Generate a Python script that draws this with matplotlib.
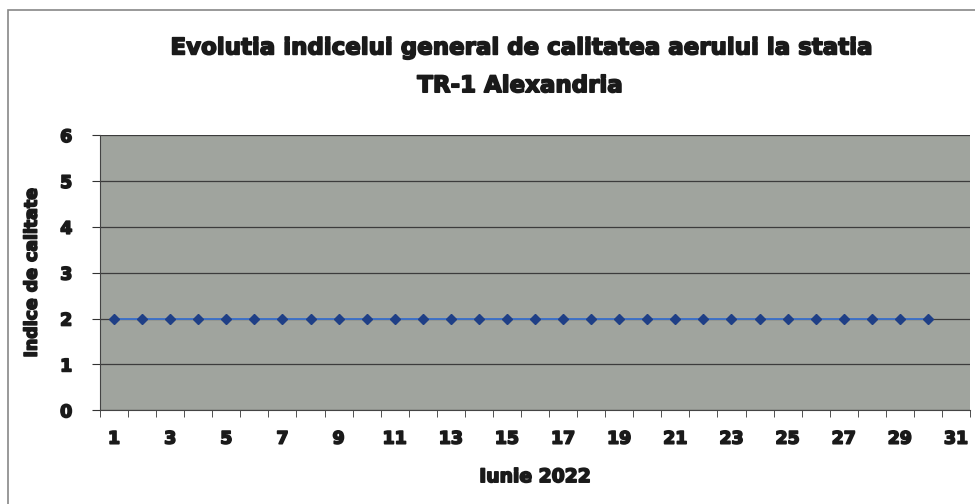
import numpy as np
import matplotlib.pyplot as plt
import matplotlib.patheffects as pe
from matplotlib.patches import Rectangle

# daily general air quality index, June 2022, station TR-1 Alexandria
days = list(range(1, 31))
index_values = [2] * 30
tick_days = list(range(1, 32, 2))

plt.rcParams['font.family'] = ['DejaVu Sans']
heavy = [pe.withStroke(linewidth=1.2, foreground='#1a1a1a')]

fig = plt.figure(figsize=(9.75, 5.04), dpi=100)
ax = fig.add_axes([0.1026, 0.186, 0.8923, 0.546])

ax.set_facecolor('#a0a49e')
ax.plot(days, index_values, color='#3f72c8', lw=1.4, marker='D',
        markersize=5, markerfacecolor='#1f3f86', markeredgecolor='#1f3f86')

ax.set_xlim(0.5, 31.5)
ax.set_ylim(0, 6)
ax.set_yticks(range(0, 7))
ax.set_xticks(tick_days)
ax.set_xticks(np.arange(0.5, 32, 1), minor=True)
ax.tick_params(axis='x', which='major', length=0, pad=14)
ax.tick_params(axis='x', which='minor', length=5, direction='out', color='#333333')
ax.tick_params(axis='y', length=6, direction='out', color='#333333', pad=14)
for lbl in ax.get_xticklabels() + ax.get_yticklabels():
    lbl.set_fontweight('bold')
    lbl.set_fontsize(12.5)
    lbl.set_color('#1a1a1a')
    lbl.set_path_effects(heavy)

ax.grid(axis='y', color='#3c3c3c', lw=0.9)
ax.set_axisbelow(True)
for side in ('top', 'right'):
    ax.spines[side].set_visible(False)
ax.spines['left'].set_color('#444444')
ax.spines['bottom'].set_color('#444444')

ax.set_xlabel('Iunie 2022', fontsize=13.5, fontweight='bold', color='#1a1a1a',
              labelpad=14, path_effects=heavy)
ax.set_ylabel('Indice de calitate', fontsize=12.5, fontweight='bold', color='#1a1a1a',
              labelpad=14, path_effects=heavy)

fig.text(0.533, 0.905, 'Evolutia indicelui general de calitatea aerului la statia',
         ha='center', va='center', fontsize=16.5, fontweight='bold', color='#1a1a1a',
         path_effects=heavy)
fig.text(0.533, 0.83, 'TR-1 Alexandria',
         ha='center', va='center', fontsize=16.5, fontweight='bold', color='#1a1a1a',
         path_effects=heavy)

# chart frame
fig.patches.append(Rectangle((0.008, -0.01), 1.0, 0.99, transform=fig.transFigure,
                             fill=False, edgecolor='#888888', lw=1.2))

fig.savefig('out.png', dpi=100)
